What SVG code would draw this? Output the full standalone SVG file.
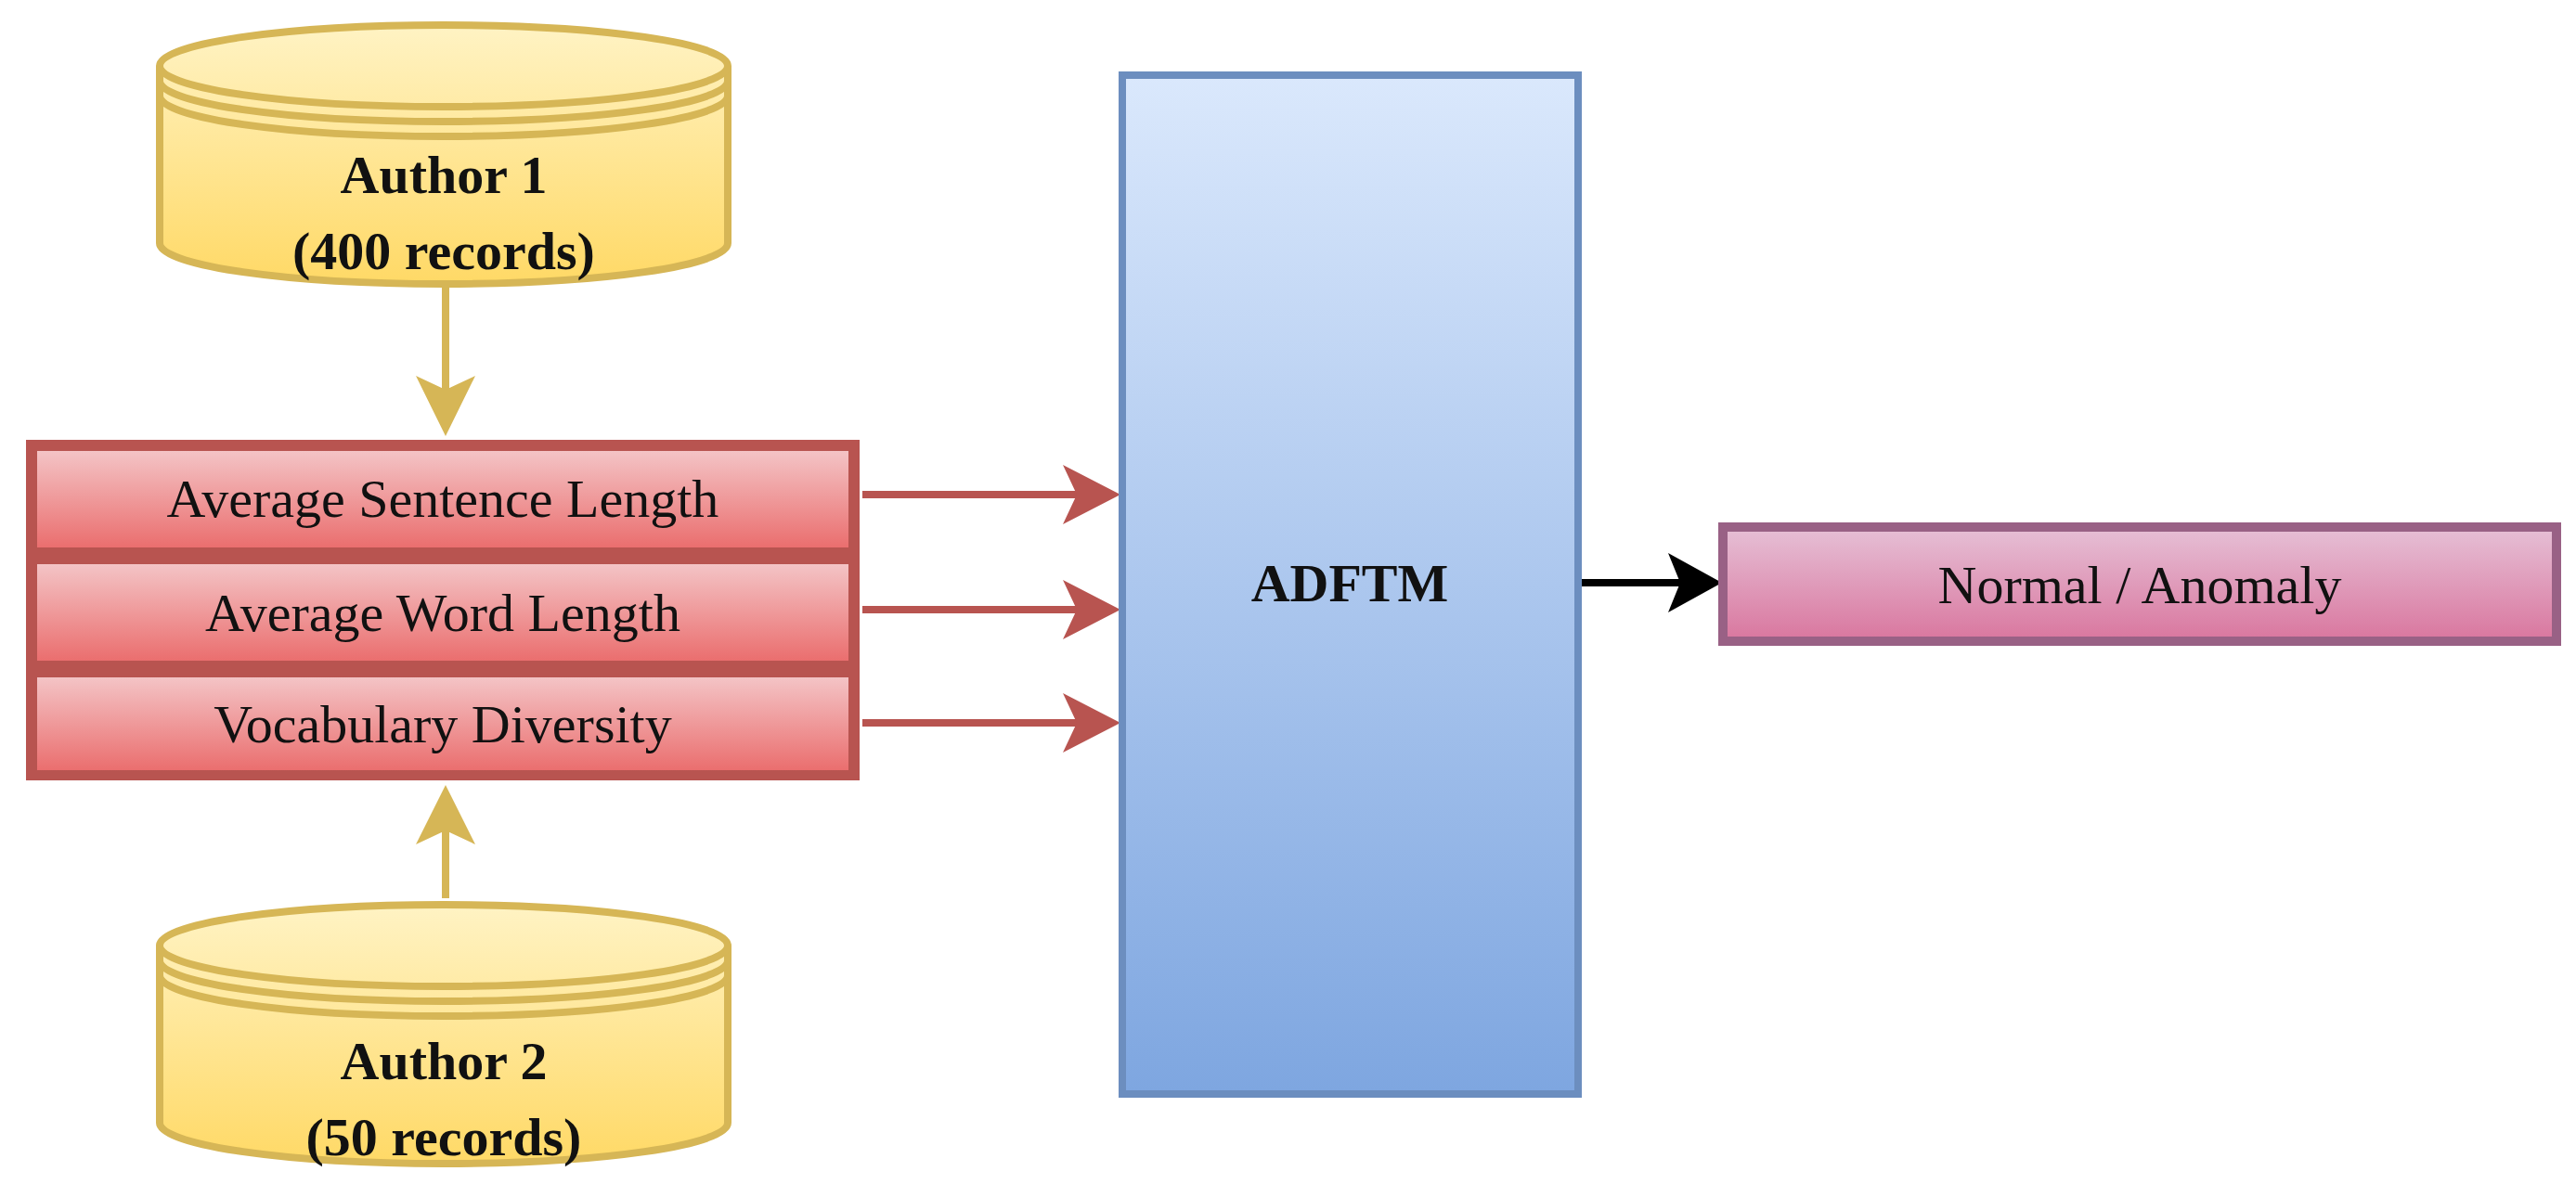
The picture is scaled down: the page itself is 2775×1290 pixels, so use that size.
<svg xmlns="http://www.w3.org/2000/svg" width="2775" height="1290" viewBox="0 0 2775 1290">
<defs>
<linearGradient id="gy" x1="0" y1="0" x2="0" y2="1"><stop offset="0" stop-color="#fff3c4"/><stop offset="1" stop-color="#ffd966"/></linearGradient>
<linearGradient id="gr" x1="0" y1="0" x2="0" y2="1"><stop offset="0" stop-color="#f4c7c9"/><stop offset="1" stop-color="#ea6b6b"/></linearGradient>
<linearGradient id="gb" x1="0" y1="0" x2="0" y2="1"><stop offset="0" stop-color="#dae8fc"/><stop offset="1" stop-color="#7ea6e0"/></linearGradient>
<linearGradient id="gp" x1="0" y1="0" x2="0" y2="1"><stop offset="0" stop-color="#e6c0d6"/><stop offset="1" stop-color="#d9769e"/></linearGradient>
<marker id="ay" markerWidth="10" markerHeight="10" refX="8" refY="5" orient="auto" markerUnits="userSpaceOnUse" viewBox="0 0 10 10" style="overflow:visible"><path d="M0,0 L10,5 L0,10 L3,5 Z" fill="#d6b656" transform="scale(6)"/></marker>
<marker id="ar" markerWidth="10" markerHeight="10" refX="9" refY="5" orient="auto" viewBox="0 0 10 10" markerUnits="userSpaceOnUse" style="overflow:visible"><path d="M0,0 L10,5 L0,10 L3,5 Z" fill="#b85450" transform="scale(6) translate(-8,-5) translate(8,5)"/></marker>
<marker id="ak" markerWidth="10" markerHeight="10" refX="9" refY="5" orient="auto" viewBox="0 0 10 10" markerUnits="userSpaceOnUse" style="overflow:visible"><path d="M0,0 L10,5 L0,10 L3,5 Z" fill="#000"/></marker>
</defs>
<style>
text{font-family:"Liberation Serif","Times New Roman",serif;fill:#111;text-anchor:middle}
.b{font-weight:bold;font-size:58px}
.n{font-size:58px}
.cyl{fill:url(#gy);stroke:#d6b656;stroke-width:8}
.ln{fill:none;stroke:#d6b656;stroke-width:8}
.row{fill:url(#gr);stroke:#b85450;stroke-width:8}
</style>
<g id="connectors">
<line x1="480" y1="306" x2="480" y2="420" stroke="#d6b656" stroke-width="8"/>
<path d="M448,405 L480,470 L512,405 L480,420 Z" fill="#d6b656"/>
<line x1="480" y1="968" x2="480" y2="895" stroke="#d6b656" stroke-width="8"/>
<path d="M448,910 L480,846 L512,910 L480,895 Z" fill="#d6b656"/>
<g fill="#b85450">
<line x1="929" y1="533" x2="1160" y2="533" stroke="#b85450" stroke-width="8"/>
<path d="M1145,501 L1207,533 L1145,565 L1160,533 Z"/>
<line x1="929" y1="657" x2="1160" y2="657" stroke="#b85450" stroke-width="8"/>
<path d="M1145,625 L1207,657 L1145,689 L1160,657 Z"/>
<line x1="929" y1="779" x2="1160" y2="779" stroke="#b85450" stroke-width="8"/>
<path d="M1145,747 L1207,779 L1145,811 L1160,779 Z"/>
</g>
<line x1="1704" y1="628" x2="1810" y2="628" stroke="#000" stroke-width="8"/>
<path d="M1797,596 L1855,628 L1797,660 L1810,628 Z" fill="#000"/>
</g>
<g id="author1">
<path class="cyl" d="M172,71 L172,262 A306,44 0 0 0 784,262 L784,71 A306,44 0 0 0 172,71 Z"/>
<path class="ln" d="M172,71 A306,44 0 0 0 784,71"/>
<path class="ln" d="M172,87 A306,44 0 0 0 784,87"/>
<path class="ln" d="M172,103 A306,44 0 0 0 784,103"/>
<text class="b" x="478" y="208">Author 1</text>
<text class="b" x="478" y="290">(400 records)</text>
</g>
<g id="author2">
<path class="cyl" d="M172,1019 L172,1210 A306,44 0 0 0 784,1210 L784,1019 A306,44 0 0 0 172,1019 Z"/>
<path class="ln" d="M172,1019 A306,44 0 0 0 784,1019"/>
<path class="ln" d="M172,1035 A306,44 0 0 0 784,1035"/>
<path class="ln" d="M172,1051 A306,44 0 0 0 784,1051"/>
<text class="b" x="478" y="1163">Author 2</text>
<text class="b" x="478" y="1245">(50 records)</text>
</g>
<g id="features">
<rect x="28" y="474" width="898" height="367" fill="#b85450"/>
<rect class="row" x="36" y="482" width="882" height="112"/>
<rect class="row" x="36" y="604" width="882" height="112"/>
<rect class="row" x="36" y="726" width="882" height="108"/>
<text class="n" x="477" y="557">Average Sentence Length</text>
<text class="n" x="477" y="680">Average Word Length</text>
<text class="n" x="477" y="800">Vocabulary Diversity</text>
</g>
<g id="adftm">
<rect x="1209" y="81" width="491" height="1098" fill="url(#gb)" stroke="#6c8ebf" stroke-width="8"/>
<text class="b" x="1454" y="648">ADFTM</text>
</g>
<g id="output">
<rect x="1856" y="568" width="898" height="123" fill="url(#gp)" stroke="#996185" stroke-width="10"/>
<text class="n" x="2305" y="650">Normal / Anomaly</text>
</g>
</svg>
